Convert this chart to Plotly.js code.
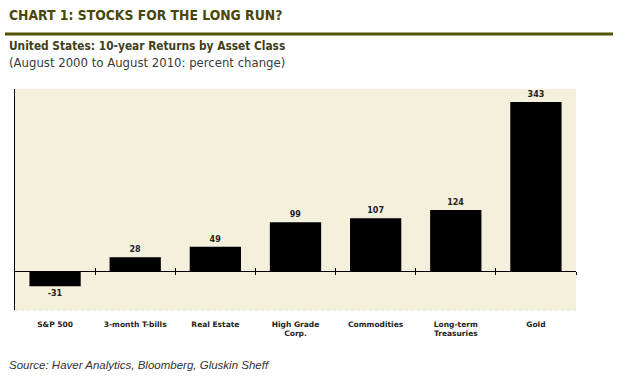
<!DOCTYPE html>
<html>
<head>
<meta charset="utf-8">
<script src="https://cdn.plot.ly/plotly-3.0.1.min.js"></script>
<style>
html,body{margin:0;padding:0;background:#fff;}
#chart{width:627px;height:379px;}
</style>
</head>
<body>
<div id="chart"></div>
<script>
const categories = ["S&P 500", "3-month T-bills", "Real Estate", "High Grade<br>Corp.", "Commodities", "Long-term<br>Treasuries", "Gold"];
const returns = [-31, 28, 49, 99, 107, 124, 343];
const boundaryTicks = [0.5, 1.5, 2.5, 3.5, 4.5, 5.5, 6.5];

const W = 627, H = 379;
const L = 15, R = 51, T = 89, B = 69;
const pw = W - L - R, ph = H - T - B;
const px = x => (x - L) / pw;
const py = y => (H - B - y) / ph;
const yRange = [-79.2, 369.4];
const zeroPos = (0 - yRange[0]) / (yRange[1] - yRange[0]);

const trace = {
  type: 'bar',
  x: categories.map((c, i) => i),
  y: returns,
  marker: {color: '#000000', line: {width: 0}},
  width: 0.64,
  text: returns.map(v => String(v)),
  textposition: 'outside',
  cliponaxis: false,
  textfont: {family: 'DejaVu Sans', size: 8, weight: 'bold', color: '#222'},
  hoverinfo: 'none'
};

const fontC = 'DejaVu Sans Condensed, sans-serif';

const layout = {
  width: W, height: H,
  margin: {l: L, r: R, t: T, b: B, pad: 0},
  paper_bgcolor: '#ffffff',
  plot_bgcolor: '#f5f0dc',
  showlegend: false,
  xaxis: {
    range: [-0.5, 6.5],
    tickmode: 'array',
    tickvals: categories.map((c, i) => i),
    ticktext: categories,
    ticks: '',
    showline: false,
    showgrid: false,
    zeroline: false,
    ticklabelstandoff: 8,
    tickfont: {family: 'DejaVu Sans', size: 7.5, weight: 'bold', color: '#222'},
    fixedrange: true
  },
  xaxis2: {
    overlaying: 'x',
    anchor: 'free',
    position: zeroPos,
    range: [-0.5, 6.5],
    tickmode: 'array',
    tickvals: boundaryTicks,
    ticks: 'outside',
    ticklen: 3,
    tickwidth: 1,
    tickcolor: '#000',
    showticklabels: false,
    showline: true,
    linecolor: '#000',
    linewidth: 1.2,
    showgrid: false,
    zeroline: false
  },
  xaxis3: {
    overlaying: 'x',
    anchor: 'free',
    position: zeroPos,
    range: [-0.5, 6.5],
    tickmode: 'array',
    tickvals: boundaryTicks,
    ticks: 'inside',
    ticklen: 3,
    tickwidth: 1,
    tickcolor: '#000',
    showticklabels: false,
    showline: false,
    showgrid: false,
    zeroline: false
  },
  yaxis: {
    range: yRange,
    showticklabels: false,
    ticks: '',
    showgrid: false,
    zeroline: false,
    showline: true,
    linecolor: '#000',
    linewidth: 1.2,
    fixedrange: true
  },
  shapes: [
    {type: 'line', xref: 'paper', yref: 'paper', x0: px(5), x1: px(613), y0: py(34), y1: py(34),
     line: {color: '#565200', width: 3}},
    {type: 'line', xref: 'paper', yref: 'paper', x0: 0, x1: 1, y0: 0, y1: 0,
     line: {color: '#e2ddc8', width: 1, dash: 'dot'}}
  ],
  annotations: [
    {xref: 'paper', yref: 'paper', x: px(7), y: py(15), xanchor: 'left', yanchor: 'middle', showarrow: false,
     text: '<b>CHART 1: STOCKS FOR THE LONG RUN?</b>', font: {family: fontC, size: 13.8, color: '#4a4608'}},
    {xref: 'paper', yref: 'paper', x: px(7), y: py(46), xanchor: 'left', yanchor: 'middle', showarrow: false,
     text: '<b>United States: 10-year Returns by Asset Class</b>', font: {family: fontC, size: 11.8, color: '#3f3d1a'}},
    {xref: 'paper', yref: 'paper', x: px(7), y: py(63), xanchor: 'left', yanchor: 'middle', showarrow: false,
     text: '(August 2000 to August 2010: percent change)', font: {family: fontC, size: 13, color: '#3a3a3a'}},
    {xref: 'paper', yref: 'paper', x: px(7), y: py(365), xanchor: 'left', yanchor: 'middle', showarrow: false,
     text: '<i>Source: Haver Analytics, Bloomberg, Gluskin Sheff</i>', font: {family: 'Liberation Sans, Arial, sans-serif', size: 11.5, color: '#333'}}
  ]
};

const t2 = {type: 'scatter', x: [], y: [], xaxis: 'x2', yaxis: 'y', hoverinfo: 'none'};
const t3 = {type: 'scatter', x: [], y: [], xaxis: 'x3', yaxis: 'y', hoverinfo: 'none'};

Plotly.newPlot('chart', [trace, t2, t3], layout, {staticPlot: true, displayModeBar: false});
</script>
</body>
</html>
